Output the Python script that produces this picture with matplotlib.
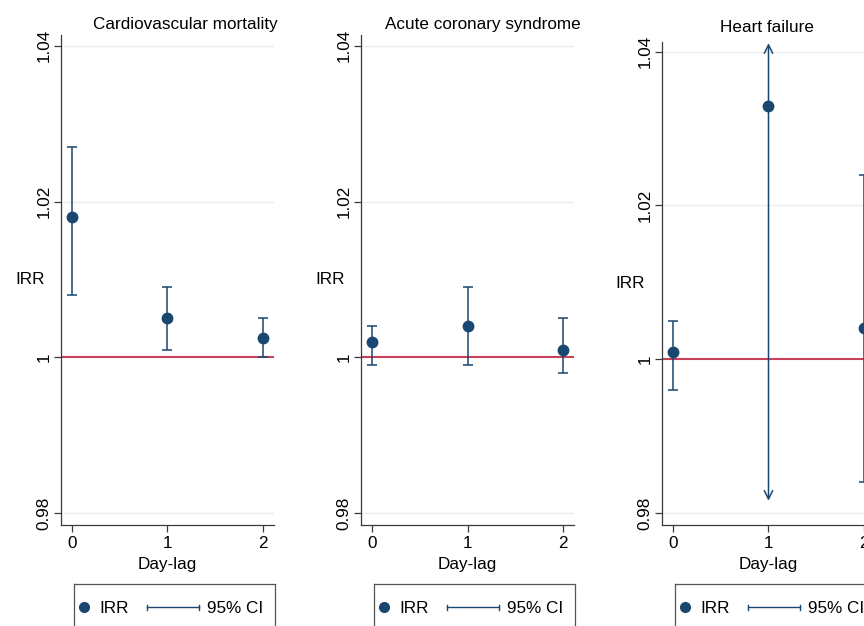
import numpy as np
import matplotlib
matplotlib.use('Agg')
import matplotlib.pyplot as plt
from matplotlib.lines import Line2D

plt.rcParams['font.family'] = ['Liberation Sans', 'DejaVu Sans']

# --- data ------------------------------------------------------------------
lags = [0, 1, 2]
tick_vals = [0.98, 1.0, 1.02, 1.04]
tick_labels = ['0.98', '1', '1.02', '1.04']

titles = ['Cardiovascular mortality', 'Acute coronary syndrome', 'Heart failure']

cvd_irr = [1.018, 1.005, 1.0025]
cvd_lo = [1.008, 1.001, 1.000]
cvd_hi = [1.027, 1.009, 1.005]

acs_irr = [1.002, 1.004, 1.001]
acs_lo = [0.999, 0.999, 0.998]
acs_hi = [1.004, 1.009, 1.005]

hf_irr = [1.001, 1.033, 1.004]
hf_lo = [0.996, 0.9816, 0.984]
hf_hi = [1.005, 1.0411, 1.024]
hf_trunc = [False, True, False]   # CI runs off the axis -> drawn as arrows

NAVY = '#1a476f'
RED = '#c9405a'
GRID = '#ececec'
SPINE = '#3a3a3a'
FS = 12.3

W, H = 864, 626
fig = plt.figure(figsize=(W / 100, H / 100), dpi=100)


def px_axes(left, top, right, bottom):
    return fig.add_axes([left / W, 1 - bottom / H, (right - left) / W, (bottom - top) / H])


def panel(ax, irr, lo, hi, trunc, ylim):
    ax.set_xlim(-0.115, 2.115)
    ax.set_ylim(*ylim)
    for v in tick_vals:
        if v != 1.0:
            ax.axhline(v, color=GRID, lw=0.9, zorder=0)
    ax.axhline(1.0, color=RED, lw=1.5, zorder=1)
    irr, lo, hi = map(np.asarray, (irr, lo, hi))
    for x, y, l, h, t in zip(lags, irr, lo, hi, trunc):
        if t:
            ax.annotate('', xy=(x, h), xytext=(x, y), clip_on=False,
                        arrowprops=dict(arrowstyle='->,head_length=0.6,head_width=0.3',
                                        color=NAVY, lw=1.1, shrinkA=0, shrinkB=0))
            ax.annotate('', xy=(x, l), xytext=(x, y), clip_on=False,
                        arrowprops=dict(arrowstyle='->,head_length=0.6,head_width=0.3',
                                        color=NAVY, lw=1.1, shrinkA=0, shrinkB=0))
        else:
            ax.errorbar([x], [y], yerr=[[y - l], [h - y]], fmt='none', ecolor=NAVY,
                        elinewidth=1.1, capsize=3.5, capthick=1.1, zorder=3)
    ax.plot(lags, irr, 'o', color=NAVY, ms=7.5, zorder=4)

    ax.set_yticks(tick_vals)
    ax.set_yticklabels(tick_labels)
    ax.set_xticks(lags)
    ax.tick_params(axis='y', labelrotation=90, length=5, width=0.9, color=SPINE,
                   labelsize=FS, pad=2)
    for lab in ax.get_yticklabels():
        lab.set_va('center')
    ax.tick_params(axis='x', length=5, width=0.9, color=SPINE, labelsize=FS, pad=3)
    for s in ('top', 'right'):
        ax.spines[s].set_visible(False)
    for s in ('left', 'bottom'):
        ax.spines[s].set_color(SPINE)
        ax.spines[s].set_linewidth(0.9)
    ax.set_ylabel('IRR', rotation=0, fontsize=FS, ha='left', va='center')
    ax.set_xlabel('Day-lag', fontsize=FS, va='center')


def legend_box(left, right):
    lg = px_axes(left, 584, right, 640)
    lg.set_xlim(0, right - left)
    lg.set_ylim(0, 56)
    lg.set_xticks([])
    lg.set_yticks([])
    for s in lg.spines.values():
        s.set_color('#555555')
        s.set_linewidth(0.9)
    lg.plot([10], [33], 'o', color=NAVY, ms=7)
    lg.text(25, 33, 'IRR', fontsize=FS, va='center_baseline')
    lg.plot([73, 125], [33, 33], color=NAVY, lw=1.0)
    lg.plot([73, 73], [30.5, 35.5], color=NAVY, lw=1.0)
    lg.plot([125, 125], [30.5, 35.5], color=NAVY, lw=1.0)
    lg.text(133, 33, '95% CI', fontsize=FS, va='center_baseline')


specs = [
    (61, 35, 274, 525, (0.97849, 1.04137), cvd_irr, cvd_lo, cvd_hi, [False] * 3, 185, 25, 15),
    (361, 35, 574, 525, (0.97849, 1.04137), acs_irr, acs_lo, acs_hi, [False] * 3, 483, 25, 315),
    (662, 42, 875, 525, (0.97844, 1.04126), hf_irr, hf_lo, hf_hi, hf_trunc, 767, 27, 615),
]

for (l, t, r, b, yl, irr, lo, hi, tr, tx, ty, irr_x), title in zip(specs, titles):
    ax = px_axes(l, t, r, b)
    panel(ax, irr, lo, hi, tr, yl)
    ax.yaxis.set_label_coords((irr_x - l) / (r - l), 0.5)
    ax.xaxis.set_label_coords(0.5, -(565 - b) / (b - t))
    fig.text(tx / W, 1 - ty / H, title, fontsize=FS, ha='center', va='center')
    legend_box(l + 13, r + 1)

fig.savefig('out.png', dpi=100)
